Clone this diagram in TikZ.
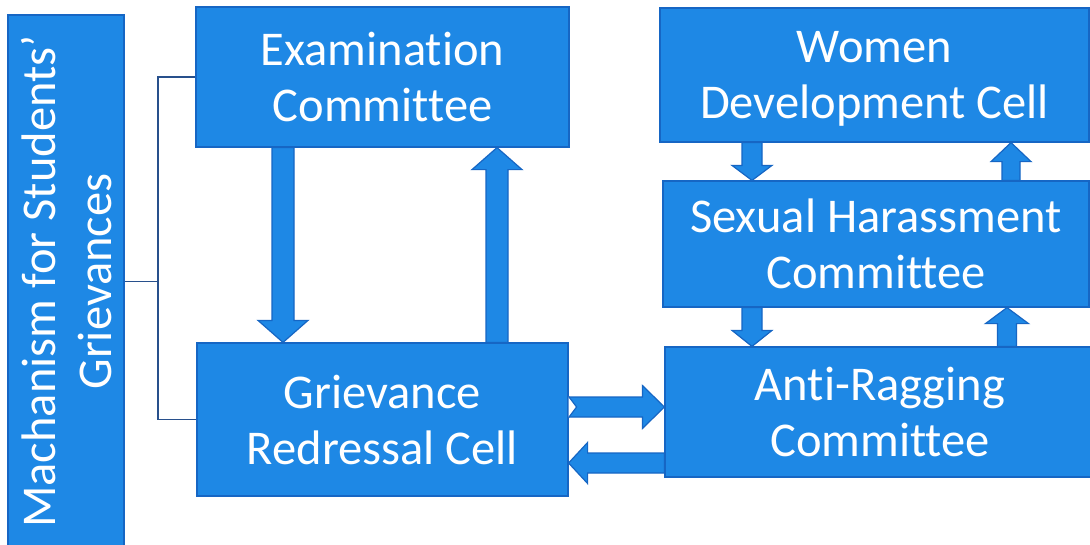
\documentclass[tikz,border=0pt]{standalone}
\usepackage{fontspec}
\setmainfont{Carlito}[Ligatures=NoCommon]
\usetikzlibrary{calc}
\definecolor{boxfill}{RGB}{30,136,229}
\definecolor{boxline}{RGB}{22,102,196}
\definecolor{brk}{RGB}{40,80,140}
\tikzset{
  blk/.style={rectangle, fill=boxfill, draw=boxline, line width=1.2pt, inner sep=0pt,
    text=white, font=\fontsize{48.5}{56}\selectfont, align=center, text depth=0pt},
  blockarrow/.style={fill=boxfill, draw=boxline, line width=1.2pt, line join=miter},
  bracketline/.style={draw=brk, line width=1.3pt}
}
\newcommand\blockarr[5]{%
  \coordinate (ba) at (#1);
  \coordinate (bb) at (#2);
  \coordinate (bh) at ($(bb)!#5!(ba)$);
  \filldraw[blockarrow] ($(ba)!#3!90:(bb)$) -- ($(bh)!#3!-90:(ba)$) -- ($(bh)!#4!-90:(ba)$) -- (bb)
     -- ($(bh)!#4!90:(ba)$) -- ($(bh)!#3!90:(ba)$) -- ($(ba)!#3!-90:(bb)$) -- cycle;}
\begin{document}
\begin{tikzpicture}[x=1pt,y=-1pt]
\useasboundingbox (0,0) rectangle (1090,544);
\fill[white] (0,0) rectangle (1090,544);
% boxes
\node[blk, rotate=90, minimum width=533pt, minimum height=116pt] (mech) at (66,281.5)
  {Machanism for Students'\\Grievances};
\node[blk, minimum width=373pt, minimum height=140pt] (exam) at (382.5,77) {Examination\\Committee};
\node[blk, minimum width=371pt, minimum height=153pt] (griev) at (382.5,419.5) {Grievance\\Redressal Cell};
\node[blk, minimum width=429pt, minimum height=134pt] (wdc) at (874.5,75) {Women\\Development Cell};
\node[blk, minimum width=426pt, minimum height=126pt] (sh) at (876,244) {Sexual Harassment\\Committee};
\node[blk, minimum width=430pt, minimum height=130pt] (ar) at (880,412) {Anti-Ragging\\Committee};
% bracket (mech is rotated: its south anchor is its right side)
\coordinate (brk) at (158,0 |- mech.south);
\draw[bracketline] (mech.south) -- (brk);
\draw[bracketline] (exam.west) -| (brk) |- (griev.west);
% block arrows
\blockarr{283,0 |- exam.south}{283,0 |- griev.north}{11pt}{25pt}{22pt}
\blockarr{497,0 |- griev.north}{497,0 |- exam.south}{11pt}{25pt}{22pt}
\blockarr{752,0 |- wdc.south}{752,0 |- sh.north}{10pt}{20pt}{15pt}
\blockarr{1011,0 |- sh.north}{1011,0 |- wdc.south}{9pt}{20pt}{19pt}
\blockarr{752,0 |- sh.south}{752,0 |- ar.north}{10pt}{20pt}{16pt}
\blockarr{1007,0 |- ar.north}{1007,0 |- sh.south}{9.5pt}{21.5pt}{16pt}
\blockarr{griev.east |- 0,407}{ar.west |- 0,407}{10pt}{21.5pt}{22pt}
\blockarr{ar.west |- 0,463}{griev.east |- 0,463}{10pt}{20.5pt}{19pt}
% notch at the tail of the right-pointing arrow
\coordinate (nt) at (griev.east |- 0,396.4);
\coordinate (nb) at (griev.east |- 0,417.6);
\coordinate (np) at ([xshift=8pt]griev.east |- 0,407);
\fill[white] (nt) -- (np) -- (nb) -- cycle;
\draw[boxline, line width=1.2pt] (nt) -- (np) -- (nb);
\end{tikzpicture}
\end{document}
